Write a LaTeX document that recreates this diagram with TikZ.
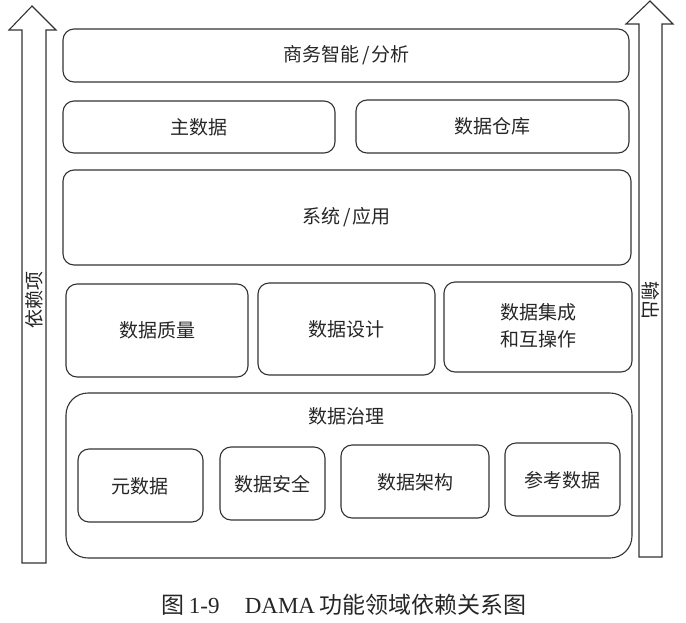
\documentclass[tikz,border=0pt]{standalone}
\usepackage{fontspec}
\setmainfont{Liberation Serif}
\newfontfamily\cjk{Noto Sans CJK SC}
\begin{document}
\begin{tikzpicture}[x=1pt,y=-1pt,
  box/.style={draw=black!80,line width=1.1pt,rounded corners=11pt},
  lbl/.style={font=\cjk\fontsize{19}{27}\selectfont,text=black!85,align=center},
  arrowshape/.style={draw=black!80,line width=1.1pt,fill=white}]
\useasboundingbox (0,0) rectangle (686,622);
% dependency arrows
\draw[arrowshape] (22,563) -- (22,30) -- (9,30) -- (32,6) -- (56,30) -- (46,30) -- (46,563) -- cycle;
\draw[arrowshape] (639,557) -- (639,24) -- (626,24) -- (650,1) -- (673,24) -- (662,24) -- (662,557) -- cycle;
\node[lbl,rotate=90] (dep) at (34,300) {依赖项};
\node[lbl,rotate=-90] (out) at (651,300) {输出};
% row 1
\draw[box] (63,29) rectangle (629,82);
\node[lbl] (bi) at (347,55) {商务智能\hspace{0.12em}/\hspace{0.12em}分析};
% row 2
\draw[box] (63,101) rectangle (335,153);
\node[lbl] (md) at (199,127) {主数据};
\draw[box] (356,100) rectangle (629,153);
\node[lbl] (dw) at (492,126) {数据仓库};
% row 3
\draw[box] (63,170) rectangle (631,265);
\node[lbl] (sys) at (347,217) {系统\hspace{0.12em}/\hspace{0.12em}应用};
% row 4
\draw[box] (66,284) rectangle (248,377);
\node[lbl] (dq) at (157,330) {数据质量};
\draw[box] (258,283) rectangle (435,375);
\node[lbl] (dd) at (346,329) {数据设计};
\draw[box] (444,282) rectangle (632,372);
\node[lbl] (di) at (538,326) {数据集成\\和互操作};
% row 5
\draw[box,rounded corners=22pt] (66,393) rectangle (632,558);
\node[lbl] (dg) at (346,416) {数据治理};
\draw[box] (78,449) rectangle (203,522);
\node[lbl] (meta) at (140,486) {元数据};
\draw[box] (220,447) rectangle (325,520);
\node[lbl] (sec) at (272,484) {数据安全};
\draw[box] (341,445) rectangle (489,518);
\node[lbl] (arch) at (415,482) {数据架构};
\draw[box] (505,443) rectangle (620,516);
\node[lbl] (ref) at (562,480) {参考数据};
% caption
\node[font=\fontsize{23}{27}\selectfont,text=black!85] (cap) at (344,605) {{\cjk 图}\hspace{0.2em}1-9\hspace{1.1em}DAMA\hspace{0.2em}{\cjk 功能领域依赖关系图}};
\end{tikzpicture}
\end{document}
